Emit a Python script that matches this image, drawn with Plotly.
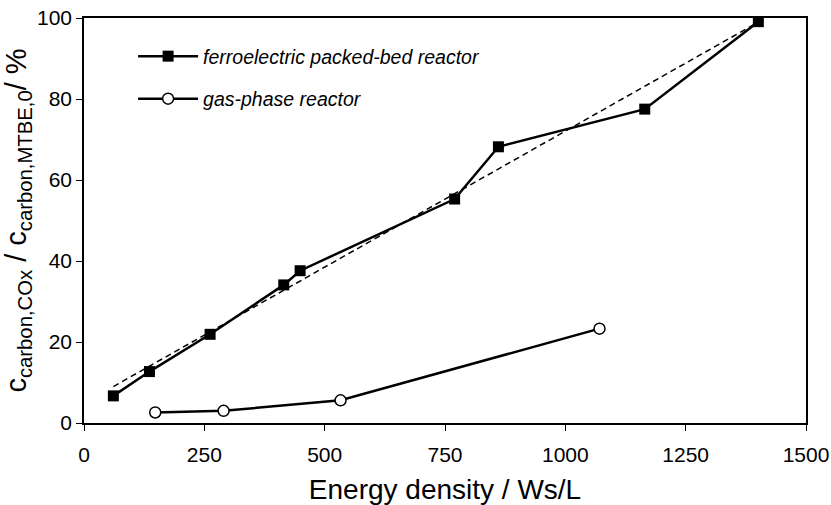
import plotly.graph_objects as go

ferro_x = [61, 136, 262, 415, 449, 770, 861, 1165, 1401]
ferro_y = [6.7, 12.7, 21.9, 34.1, 37.6, 55.3, 68.2, 77.5, 99.1]
gas_x = [148, 290, 533, 1071]
gas_y = [2.6, 3.0, 5.6, 23.3]
fit_x = [61, 1401]
fit_y = [9.0, 99.0]
x_ticks = [0, 250, 500, 750, 1000, 1250, 1500]
y_ticks = [0, 20, 40, 60, 80, 100]

FONT = "Liberation Sans, Arial, sans-serif"

fig = go.Figure()
fig.add_trace(go.Scatter(x=fit_x, y=fit_y, mode="lines", showlegend=False,
                         line=dict(color="black", width=1.5, dash="6px,4px")))
fig.add_trace(go.Scatter(x=ferro_x, y=ferro_y, mode="lines+markers",
                         name="ferroelectric packed-bed reactor", legend="legend",
                         line=dict(color="black", width=2.5),
                         marker=dict(symbol="square", size=11, color="black")))
fig.add_trace(go.Scatter(x=gas_x, y=gas_y, mode="lines+markers",
                         name="gas-phase reactor", legend="legend2",
                         line=dict(color="black", width=2.5),
                         marker=dict(symbol="circle", size=11, color="white",
                                     line=dict(color="black", width=1.5))))

legend_common = dict(font=dict(family=FONT, size=19.5, color="black", style="italic"),
                     bgcolor="rgba(0,0,0,0)", xanchor="left", yanchor="middle",
                     itemwidth=60)
fig.update_layout(
    width=831, height=505,
    margin=dict(l=84, r=25, t=18, b=82, autoexpand=False),
    paper_bgcolor="white", plot_bgcolor="white",
    font=dict(family=FONT, color="black"),
    legend=dict(x=0.068, y=0.905, **legend_common),
    legend2=dict(x=0.068, y=0.800, **legend_common),
    xaxis=dict(range=[0, 1500], tickvals=x_ticks, ticks="outside", ticklen=6,
               tickwidth=1, tickcolor="black", showline=True, linecolor="black",
               linewidth=1.5, mirror=True, showgrid=False, zeroline=False,
               ticklabelstandoff=6, automargin=False,
               tickfont=dict(size=21, family=FONT),
               title=dict(text="Energy density / Ws/L", font=dict(size=28, family=FONT),
                          standoff=14)),
    yaxis=dict(range=[0, 100], tickvals=y_ticks, ticks="outside", ticklen=6,
               tickwidth=1, tickcolor="black", showline=True, linecolor="black",
               linewidth=1.5, mirror=True, showgrid=False, zeroline=False,
               automargin=False,
               tickfont=dict(size=21, family=FONT),
               title=dict(text="c<sub>carbon,COx</sub> / c<sub>carbon,MTBE,0</sub>/ %",
                          font=dict(size=29, family=FONT), standoff=2)),
)
fig.write_html("out.html")
